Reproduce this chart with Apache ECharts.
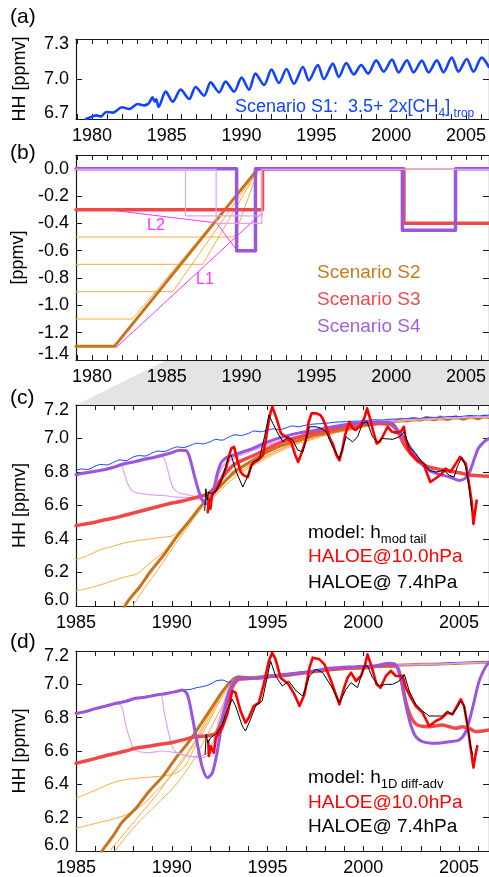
<!DOCTYPE html>
<html>
<head>
<meta charset="utf-8">
<script src="https://cdn.jsdelivr.net/npm/echarts@6/dist/echarts.min.js"></script>
<style>
html,body{margin:0;padding:0;background:#fff;}
#chart{width:489px;height:877px;}
</style>
</head>
<body>
<div id="chart"></div>
<script>
// ---------- tick positions ----------
const yearLabelsAB = [1980, 1985, 1990, 1995, 2000, 2005];
const yearMinorAB = [1979,1980,1981,1982,1983,1984,1985,1986,1987,1988,1989,1990,1991,1992,1993,1994,1995,1996,1997,1998,1999,2000,2001,2002,2003,2004,2005,2006];
const yearLabelsCD = [1985, 1990, 1995, 2000, 2005];
const yearMinorCD = [1985,1986,1987,1988,1989,1990,1991,1992,1993,1994,1995,1996,1997,1998,1999,2000,2001,2002,2003,2004,2005,2006];
const yTicksA = [6.7, 7.0, 7.3];
const yTicksB = [-1.4, -1.2, -1.0, -0.8, -0.6, -0.4, -0.2, 0.0];
const yTicksCD = [6.0, 6.2, 6.4, 6.6, 6.8, 7.0, 7.2];

// ---------- (a) scenario S1 ----------
const a_S1 = [[1979.6,6.70],[1979.9,6.713],[1980.3,6.727],[1980.6,6.72],[1980.95,6.752],[1981.4,6.748],[1982.0,6.788],[1982.5,6.775],[1983.05,6.812],[1983.5,6.802],[1983.8,6.818],[1984.05,6.862],[1984.2,6.83],[1984.3,6.848],[1984.45,6.79],[1984.93,6.905],[1985.4,6.83],[1985.93,6.92],[1986.5,6.85],[1986.93,6.94],[1987.5,6.875],[1987.93,6.975],[1988.5,6.9],[1988.93,6.98],[1989.5,6.905],[1990.0,7.01],[1990.5,6.92],[1990.93,7.04],[1991.5,6.955],[1992.0,7.07],[1992.5,6.97],[1993.0,7.075],[1993.5,6.965],[1994.1,7.09],[1994.5,6.99],[1995.1,7.105],[1995.5,7.0],[1996.1,7.115],[1996.5,7.015],[1997.0,7.12],[1997.5,7.035],[1998.0,7.105],[1998.45,7.04],[1999.0,7.14],[1999.5,7.055],[2000.05,7.145],[2000.5,7.05],[2001.05,7.14],[2001.5,7.05],[2002.05,7.138],[2002.5,7.05],[2003.05,7.14],[2003.5,7.05],[2004.05,7.16],[2004.5,7.055],[2005.05,7.15],[2005.5,7.055],[2006.05,7.16],[2006.53,7.09]];

// ---------- (b) offsets ----------
const b_S2 = [[1978.93,-1.3],[1981.5,-1.3],[1991.1,0],[1991.4,0]];
const b_S2v1 = [[1978.93,-1.1],[1982.7,-1.1],[1991.15,0],[2006.53,0]];
const b_S2v2 = [[1978.93,-0.9],[1985.4,-0.9],[1991.15,0]];
const b_S2v3 = [[1978.93,-0.7],[1987.4,-0.7],[1991.15,0]];
const b_S2v4 = [[1978.93,-0.5],[1989.5,-0.5],[1991.15,0]];
const b_L1 = [[1981.6,-1.31],[1991.3,-0.33]];
const b_L2 = [[1981.4,-0.305],[1988.33,-0.397],[1989.7,-0.6]];
const b_S3 = [[1978.93,-0.3],[1991.4,-0.3],[1991.4,0],[2000.85,0],[2000.85,-0.4],[2006.53,-0.4]];
const b_S4 = [[1978.93,0],[1989.67,0],[1989.67,-0.6],[1990.93,-0.6],[1990.93,0],[2000.75,0],[2000.75,-0.45],[2004.3,-0.45],[2004.3,0],[2006.53,0]];
const b_S4v1 = [[1978.93,-0.005],[1986.25,-0.005],[1986.25,-0.345],[1991.35,-0.345],[1991.35,-0.005],[2006.53,-0.005]];
const b_S4v2 = [[1978.93,-0.005],[1988.3,-0.005],[1988.3,-0.4],[1991.35,-0.4],[1991.35,-0.005]];

// ---------- (c) model h_mod tail ----------
const c_S1 = [[1985,6.81],[1985.3,6.818],[1985.6,6.815],[1986,6.835],[1986.3,6.845],[1986.6,6.842],[1987,6.86],[1987.3,6.872],[1987.6,6.868],[1988,6.89],[1988.3,6.898],[1988.6,6.895],[1989,6.915],[1989.3,6.925],[1989.6,6.922],[1990,6.94],[1990.3,6.95],[1990.6,6.946],[1991,6.96],[1991.3,6.972],[1991.6,6.968],[1992,6.98],[1992.3,6.995],[1992.6,6.99],[1993,7.01],[1993.3,7.022],[1993.6,7.018],[1994,7.03],[1994.3,7.045],[1994.6,7.04],[1995,7.05],[1995.3,7.058],[1995.6,7.052],[1996,7.065],[1996.3,7.075],[1996.6,7.07],[1997,7.08],[1997.5,7.087],[1998,7.09],[1998.5,7.097],[1999,7.1],[1999.5,7.103],[2000,7.105],[2000.5,7.112],[2001,7.11],[2001.5,7.116],[2002,7.115],[2002.5,7.122],[2003,7.12],[2003.5,7.127],[2004,7.125],[2004.5,7.132],[2005,7.13],[2005.5,7.137],[2006,7.135],[2006.56,7.14]];
const c_S4 = [[1985,6.785],[1985.5,6.795],[1986,6.805],[1986.5,6.815],[1987,6.83],[1987.5,6.85],[1988,6.86],[1988.5,6.875],[1989,6.885],[1989.5,6.9],[1990,6.915],[1990.4,6.93],[1990.75,6.928],[1990.95,6.88],[1991.2,6.77],[1991.45,6.67],[1991.65,6.62],[1991.8,6.61],[1992.0,6.63],[1992.2,6.7],[1992.4,6.8],[1992.6,6.86],[1992.9,6.89],[1993.2,6.9],[1993.7,6.92],[1994.2,6.94],[1994.9,6.975],[1995.8,7.01],[1996.7,7.035],[1997.5,7.05],[1998.4,7.07],[1999.2,7.085],[2000.1,7.095],[2000.8,7.1],[2001.5,7.09],[2001.8,7.05],[2002.2,6.99],[2002.6,6.92],[2002.9,6.87],[2003.3,6.82],[2003.6,6.8],[2004.0,6.785],[2004.5,6.77],[2005.0,6.75],[2005.3,6.76],[2005.55,6.8],[2005.8,6.88],[2006.0,6.94],[2006.3,6.98],[2006.56,7.0]];
const c_S4v1 = [[1985,6.78],[1986,6.8],[1987,6.825],[1987.35,6.84],[1987.5,6.8],[1987.7,6.73],[1987.9,6.69],[1988.2,6.675],[1988.8,6.665],[1989.5,6.66],[1990.2,6.65],[1990.8,6.648],[1991.3,6.64],[1991.7,6.63],[1992.0,6.65],[1992.3,6.74],[1992.6,6.83],[1993,6.87],[1993.5,6.9],[1994.2,6.93],[1995,6.965],[1996,7.0],[1997,7.03],[1998,7.055],[1999,7.075],[2000,7.09],[2001,7.1],[2002,7.11],[2003,7.115],[2004,7.12],[2005,7.125],[2006.56,7.13]];
const c_S4v2 = [[1985,6.78],[1986,6.8],[1987,6.825],[1988,6.855],[1989,6.88],[1989.5,6.89],[1989.7,6.85],[1989.9,6.76],[1990.1,6.7],[1990.4,6.675],[1990.8,6.665],[1991.3,6.65],[1991.7,6.635],[1992.0,6.65],[1992.3,6.73],[1992.6,6.82],[1993,6.865],[1993.5,6.895],[1994.2,6.925],[1995,6.96],[1996,6.995],[1997,7.025],[1998,7.05],[1999,7.07],[2000,7.085],[2001,7.098],[2002,7.108],[2003,7.113],[2004,7.118],[2005,7.123],[2006.56,7.128]];
const c_S3 = [[1985,6.48],[1985.5,6.49],[1986,6.5],[1986.5,6.515],[1987,6.525],[1987.5,6.54],[1988,6.555],[1988.5,6.57],[1989,6.585],[1989.5,6.6],[1990,6.615],[1990.5,6.625],[1991,6.64],[1991.5,6.655],[1991.8,6.665],[1992.1,6.69],[1992.4,6.73],[1992.8,6.79],[1993.2,6.84],[1993.7,6.87],[1994.3,6.9],[1995,6.94],[1995.8,6.98],[1996.7,7.01],[1997.5,7.035],[1998.4,7.055],[1999.2,7.07],[2000.1,7.085],[2000.8,7.09],[2001.5,7.08],[2001.8,7.04],[2002.1,6.97],[2002.4,6.92],[2002.9,6.86],[2003.4,6.83],[2004.3,6.81],[2005,6.795],[2005.7,6.78],[2006.56,6.775]];
const c_S2 = [[1987.5,5.99],[1987.72,6.03],[1988.33,6.115],[1988.85,6.2],[1989.55,6.3],[1990.24,6.41],[1990.94,6.51],[1991.63,6.61],[1992.33,6.69],[1992.9,6.76],[1993.37,6.81],[1994.23,6.87],[1995,6.92],[1995.8,6.96],[1996.67,6.99],[1997.5,7.02],[1998.4,7.04],[1999.2,7.06],[2000.1,7.08],[2001,7.095],[2001.5,7.1],[2002,7.115],[2002.3,7.105],[2002.6,7.12],[2003,7.11],[2003.3,7.125],[2003.7,7.112],[2004,7.128],[2004.4,7.113],[2004.8,7.13],[2005.2,7.115],[2005.6,7.132],[2006,7.118],[2006.3,7.134],[2006.56,7.125]];
const c_S2v1 = [[1985,6.275],[1985.6,6.3],[1986.25,6.335],[1986.9,6.355],[1987.46,6.375],[1988.2,6.39],[1988.85,6.4],[1989.5,6.41],[1990.07,6.42],[1990.5,6.46],[1990.94,6.52],[1991.6,6.6],[1992.3,6.68],[1993,6.77],[1993.8,6.83],[1994.5,6.87],[1995.5,6.93],[1996.6,6.98],[1997.5,7.01],[1998.4,7.035],[1999.3,7.06],[2000.2,7.08],[2001,7.09],[2002,7.1],[2003,7.11],[2004,7.115],[2005,7.12],[2006.56,7.125]];
const c_S2v2 = [[1985,6.09],[1985.6,6.105],[1986.25,6.125],[1986.9,6.15],[1987.6,6.175],[1988.16,6.19],[1988.5,6.22],[1989,6.27],[1989.55,6.32],[1990.24,6.42],[1990.94,6.52],[1991.6,6.61],[1992.3,6.68],[1993,6.76],[1993.8,6.82],[1994.5,6.865],[1995.5,6.925],[1996.6,6.975],[1997.5,7.005],[1998.4,7.03],[1999.3,7.055],[2000.2,7.075],[2001,7.088],[2002,7.1],[2003,7.108],[2004,7.113],[2005,7.118],[2006.56,7.123]];
const c_S2v3 = [[1987.9,5.99],[1988.6,6.11],[1989.3,6.22],[1990,6.34],[1990.7,6.45],[1991.4,6.56],[1992.2,6.65],[1993,6.74],[1993.8,6.81],[1994.6,6.86],[1995.5,6.915],[1996.5,6.965],[1997.5,7.0],[1998.4,7.03],[1999.3,7.05],[2000.2,7.072],[2001,7.085],[2002,7.098],[2003,7.106],[2004,7.11],[2005,7.116],[2006.56,7.12]];
const c_haloe10 = [[1991.88,6.56],[1991.95,6.64],[1992.02,6.58],[1992.1,6.66],[1992.15,6.67],[1992.3,6.69],[1992.5,6.73],[1992.7,6.79],[1992.85,6.83],[1993.0,6.9],[1993.1,6.94],[1993.25,6.95],[1993.45,6.86],[1993.6,6.8],[1993.75,6.78],[1993.97,6.77],[1994.15,6.84],[1994.35,6.86],[1994.5,6.87],[1994.76,6.9],[1994.95,7.02],[1995.1,7.13],[1995.25,7.19],[1995.35,7.18],[1995.5,7.11],[1995.7,7.03],[1995.97,7.01],[1996.23,6.98],[1996.45,6.9],[1996.6,6.86],[1996.8,6.92],[1997.0,6.99],[1997.15,7.1],[1997.3,7.15],[1997.55,7.15],[1997.75,7.14],[1997.88,7.12],[1998.06,7.07],[1998.25,7.0],[1998.4,6.97],[1998.6,6.9],[1998.75,6.87],[1998.9,6.93],[1999.05,7.02],[1999.27,7.1],[1999.45,7.06],[1999.6,7.05],[1999.8,7.07],[2000.05,7.12],[2000.2,7.18],[2000.35,7.12],[2000.5,7.05],[2000.7,6.97],[2000.85,6.98],[2001.0,7.01],[2001.27,7.07],[2001.5,7.04],[2001.7,7.035],[2001.96,7.04],[2002.12,7.07],[2002.22,6.99],[2002.35,6.94],[2002.5,6.91],[2002.83,6.87],[2003.15,6.85],[2003.3,6.8],[2003.5,6.74],[2003.75,6.76],[2004.1,6.79],[2004.3,6.82],[2004.55,6.8],[2004.83,6.85],[2005.05,6.89],[2005.15,6.9],[2005.35,6.85],[2005.52,6.73],[2005.66,6.62],[2005.75,6.49],[2005.82,6.55],[2005.92,6.63]];
const c_haloe74 = [[1991.72,6.57],[1991.78,6.70],[1991.85,6.63],[1991.92,6.68],[1992.07,6.67],[1992.33,6.69],[1992.67,6.77],[1992.93,6.88],[1993.1,6.9],[1993.37,6.8],[1993.71,6.71],[1994.06,6.8],[1994.23,6.86],[1994.58,6.88],[1994.84,7.01],[1995.07,7.14],[1995.28,7.09],[1995.54,7.03],[1995.8,6.98],[1996.06,7.01],[1996.32,6.99],[1996.58,6.93],[1996.84,6.92],[1997.19,7.07],[1997.53,7.07],[1997.8,7.06],[1998.06,7.04],[1998.4,6.95],[1998.75,6.88],[1999.1,7.01],[1999.44,6.98],[1999.7,7.01],[1999.96,7.09],[2000.2,7.1],[2000.48,7.01],[2000.74,6.98],[2001.0,7.0],[2001.53,6.995],[2001.88,7.01],[2002.14,7.04],[2002.4,6.95],[2002.74,6.91],[2003.0,6.87],[2003.18,6.85],[2003.44,6.81],[2003.8,6.8],[2004.22,6.81],[2004.48,6.78],[2004.74,6.77],[2004.9,6.83],[2005.14,6.89],[2005.35,6.83],[2005.52,6.71],[2005.66,6.57]];

// ---------- (d) model h_1D diff-adv ----------
const d_tail = [[1994,7.04],[1995,7.05],[1996,7.06],[1997,7.072],[1998,7.086],[1999,7.096],[2000,7.102],[2001,7.11],[2002,7.116],[2003,7.12],[2004,7.122],[2005,7.127],[2006.56,7.132]];
const d_S1 = [[1985,6.826],[1986,6.856],[1987,6.886],[1988,6.915],[1989,6.935],[1990,6.955],[1990.6,6.966],[1991,6.97],[1991.3,6.98],[1991.6,6.986],[1992,7.0],[1992.3,7.02],[1992.64,7.026],[1992.98,7.012],[1993.2,7.02],[1993.5,7.036],[1994,7.04],[1995,7.05],[1996,7.06],[1997,7.075],[1998,7.09],[1999,7.1],[2000,7.105],[2001,7.11],[2002,7.115],[2003,7.12],[2004,7.125],[2005,7.13],[2006.56,7.135]];
const d_S4 = [[1985,6.826],[1985.5,6.836],[1986.04,6.856],[1986.5,6.868],[1987.08,6.886],[1987.6,6.898],[1988.1,6.916],[1988.6,6.922],[1989.17,6.936],[1989.7,6.944],[1990.2,6.956],[1990.56,6.966],[1990.82,6.936],[1991.08,6.8],[1991.34,6.64],[1991.6,6.5],[1991.86,6.44],[1992.12,6.47],[1992.38,6.6],[1992.64,6.78],[1992.9,6.92],[1993.16,7.0],[1993.5,7.04],[1994.38,7.036],[1995.4,7.05],[1996.46,7.066],[1997.19,7.076],[1998.23,7.096],[1999.62,7.106],[2000.66,7.112],[2001.35,7.126],[2001.7,7.116],[2001.96,7.036],[2002.22,6.876],[2002.48,6.756],[2002.74,6.686],[2003.09,6.656],[2003.79,6.646],[2004.48,6.656],[2005.0,6.666],[2005.35,6.716],[2005.7,6.856],[2006.04,7.016],[2006.39,7.106],[2006.56,7.13]];
const d_S4v1 = [[1985,6.82],[1986.04,6.85],[1987.08,6.88],[1987.34,6.876],[1987.6,6.756],[1987.86,6.656],[1988.1,6.606],[1988.8,6.59],[1989.5,6.6],[1990.2,6.59],[1990.9,6.57],[1991.4,6.56],[1991.9,6.575],[1992.3,6.64],[1992.64,6.836],[1992.98,6.976],[1993.33,7.03]];
const d_S4v2 = [[1985,6.82],[1986.04,6.85],[1987.08,6.88],[1988.1,6.91],[1989.17,6.93],[1989.43,6.936],[1989.6,6.836],[1989.86,6.696],[1990.12,6.606],[1990.56,6.576],[1991.25,6.566],[1991.94,6.596],[1992.3,6.716],[1992.73,6.896],[1993.16,7.016],[1993.5,7.035]];
const d_S3 = [[1985,6.526],[1985.5,6.54],[1986.04,6.556],[1986.5,6.57],[1987.08,6.586],[1987.6,6.6],[1988.1,6.616],[1988.6,6.625],[1989.17,6.636],[1989.7,6.645],[1990.2,6.656],[1990.7,6.67],[1991.25,6.686],[1991.77,6.69],[1992.3,6.706],[1992.6,6.78],[1992.9,6.9],[1993.2,6.99],[1993.5,7.03],[1994,7.035],[1995,7.045],[1996,7.055],[1997,7.07],[1998,7.085],[1999,7.095],[2000,7.1],[2001,7.11],[2001.7,7.11],[2001.96,7.036],[2002.22,6.896],[2002.48,6.806],[2002.83,6.756],[2003.44,6.746],[2004.13,6.756],[2004.83,6.736],[2005.17,6.746],[2005.52,6.736],[2005.87,6.716],[2006.56,6.726]];
const d_S2 = [[1986.2,5.97],[1986.39,6.006],[1986.91,6.086],[1987.43,6.176],[1988.13,6.256],[1988.8,6.356],[1989.52,6.446],[1990.2,6.556],[1990.9,6.656],[1991.6,6.776],[1992.12,6.866],[1992.64,6.956],[1993.16,7.026],[1993.5,7.046]];
const d_S2v1 = [[1985,6.316],[1986.04,6.366],[1987.08,6.416],[1988.1,6.436],[1989.17,6.446],[1990.2,6.466],[1990.73,6.516],[1991.25,6.636],[1991.94,6.776],[1992.64,6.926],[1993.16,7.0],[1993.6,7.035]];
const d_S2v2 = [[1985,6.136],[1986.04,6.166],[1987.08,6.196],[1987.78,6.226],[1988.47,6.276],[1989.17,6.356],[1989.86,6.436],[1990.56,6.536],[1991.25,6.656],[1991.94,6.796],[1992.64,6.94],[1993.16,7.01],[1993.6,7.035]];
const d_S2v3 = [[1986.6,5.97],[1986.73,5.996],[1987.6,6.116],[1988.47,6.236],[1989.34,6.356],[1990.2,6.496],[1991.08,6.636],[1991.94,6.816],[1992.9,6.99],[1993.3,7.03]];
const d_S2v4 = [[1986.9,5.97],[1987.0,5.996],[1988.13,6.156],[1989.17,6.276],[1990.2,6.396],[1991.08,6.536],[1991.94,6.716],[1992.9,6.926],[1993.5,7.03]];
const d_haloe10 = [[1991.9,6.66],[1991.94,6.57],[1992.02,6.63],[1992.12,6.64],[1992.2,6.59],[1992.3,6.68],[1992.64,6.74],[1992.9,6.82],[1993.16,6.96],[1993.33,6.95],[1993.59,6.84],[1993.85,6.77],[1994.02,6.8],[1994.28,6.87],[1994.55,6.89],[1994.8,7.0],[1995.07,7.14],[1995.24,7.19],[1995.42,7.15],[1995.68,7.04],[1996.1,7.0],[1996.4,6.94],[1996.67,6.87],[1996.93,6.94],[1997.19,7.1],[1997.36,7.16],[1997.71,7.15],[1997.97,7.12],[1998.32,7.02],[1998.75,6.88],[1999.0,6.98],[1999.18,7.04],[1999.36,7.07],[1999.62,7.02],[1999.88,7.05],[2000.1,7.12],[2000.22,7.18],[2000.45,7.1],[2000.69,7.0],[2000.9,6.98],[2001.18,7.05],[2001.44,7.08],[2001.7,7.05],[2002.05,7.05],[2002.22,6.98],[2002.48,6.92],[2002.74,6.87],[2003.09,6.83],[2003.44,6.75],[2003.79,6.78],[2004.13,6.8],[2004.39,6.83],[2004.65,6.82],[2004.9,6.87],[2005.09,6.91],[2005.26,6.87],[2005.43,6.76],[2005.6,6.62],[2005.75,6.5],[2005.83,6.56],[2005.95,6.63]];
const d_haloe74 = [[1991.74,6.58],[1991.8,6.7],[1991.88,6.65],[1992.03,6.68],[1992.3,6.7],[1992.64,6.76],[1992.9,6.85],[1993.16,6.91],[1993.33,6.87],[1993.68,6.75],[1993.85,6.72],[1994.11,6.79],[1994.38,6.87],[1994.72,6.9],[1994.98,7.04],[1995.16,7.14],[1995.42,7.05],[1995.77,6.99],[1996.1,7.02],[1996.5,6.96],[1996.84,6.93],[1997.19,7.05],[1997.53,7.09],[1997.88,7.07],[1998.32,6.99],[1998.75,6.89],[1999.1,6.97],[1999.36,7.01],[1999.7,6.98],[2000.05,7.11],[2000.22,7.11],[2000.48,7.04],[2000.83,6.99],[2001.18,7.0],[2001.53,7.0],[2001.88,7.02],[2002.14,7.06],[2002.4,6.96],[2002.74,6.88],[2003.09,6.84],[2003.44,6.81],[2003.79,6.81],[2004.13,6.81],[2004.39,6.84],[2004.65,6.82],[2004.9,6.86],[2005.09,6.9],[2005.26,6.87],[2005.43,6.76],[2005.6,6.63],[2005.7,6.58]];

// ---------- styling ----------
const FONT = '"Liberation Sans", Arial, Helvetica, sans-serif';
const AXIS = '#1a1a1a';
const C_S1 = '#1244ff';
const C_S2 = '#c8741a';
const C_S2V = '#ffaa3c';
const C_S3 = '#f04848';
const C_S4 = '#9a56dc';
const C_S4V = '#e2a2f2';
const C_L = '#ff33ff';

const XR_AB = [1978.933, 2006.533];
const XR_CD = [1985, 2006.5625];

const grids = [
  {left: 76, width: 414, top: 39, height: 80},
  {left: 76, width: 414, top: 155, height: 205},
  {left: 76, width: 414, top: 405, height: 201},
  {left: 76, width: 414, top: 651, height: 200}
];

function xPair(g, range, labels, minor) {
  const base = {
    type: 'value', gridIndex: g, min: range[0], max: range[1],
    axisLine: {show: true, onZero: false, lineStyle: {color: AXIS, width: 1.2}},
    splitLine: {show: false},
    axisTick: {show: true, inside: true, length: 5, customValues: minor, lineStyle: {color: AXIS, width: 1}}
  };
  return [
    Object.assign({}, base, {position: 'bottom', axisLabel: {show: true, customValues: labels, margin: 8,
      formatter: v => String(Math.round(v)), fontFamily: FONT, fontSize: 18, color: '#000'}}),
    Object.assign({}, base, {position: 'top', axisLabel: {show: false}})
  ];
}

function yPair(g, min, max, ticks, name) {
  const base = {
    type: 'value', gridIndex: g, min: min, max: max,
    axisLine: {show: true, onZero: false, lineStyle: {color: AXIS, width: 1.2}},
    splitLine: {show: false},
    axisTick: {show: true, inside: true, length: 6, customValues: ticks, lineStyle: {color: AXIS, width: 1}}
  };
  const tok = {fontFamily: FONT, fontSize: 18, color: '#000'};
  return [
    Object.assign({}, base, {
      position: 'left',
      name: name, nameLocation: 'middle', nameGap: 47, nameRotate: 90,
      nameTextStyle: {fontFamily: FONT, fontSize: 18, color: '#000'},
      axisLabel: {show: true, customValues: ticks, margin: 7, fontFamily: FONT, fontSize: 18, color: '#000',
        formatter: function (v) {
          const s = (Math.abs(v) < 1e-9 ? 0 : v).toFixed(1);
          if (Math.abs(v - min) < 1e-6) return '{lo|' + s + '}';
          if (Math.abs(v - max) < 1e-6) return '{hi|' + s + '}';
          return s;
        },
        rich: {
          lo: Object.assign({padding: [0, 0, 12, 0]}, tok),
          hi: Object.assign({padding: [10, 0, 0, 0]}, tok)
        }
      }
    }),
    Object.assign({}, base, {position: 'right', axisLabel: {show: false}})
  ];
}

function line(g, data, color, width, z) {
  return {
    type: 'line', xAxisIndex: 2 * g, yAxisIndex: 2 * g, data: data,
    showSymbol: false, symbol: 'none', silent: true, clip: true,
    lineStyle: {color: color, width: width, join: 'round', cap: 'round'},
    itemStyle: {color: color}, z: z || 2
  };
}
function smoothLine(g, data, color, width, z) {
  const s = line(g, data, color, width, z);
  s.smooth = 0.3;
  return s;
}

const xAxes = [].concat(
  xPair(0, XR_AB, yearLabelsAB, yearMinorAB),
  xPair(1, XR_AB, yearLabelsAB, yearMinorAB),
  xPair(2, XR_CD, yearLabelsCD, yearMinorCD),
  xPair(3, XR_CD, yearLabelsCD, yearMinorCD)
);
const yAxes = [].concat(
  yPair(0, 6.7, 7.3, yTicksA, 'HH [ppmv]'),
  yPair(1, -1.4, 0.1, yTicksB, '[ppmv]'),
  yPair(2, 6.0, 7.2, yTicksCD, 'HH [ppmv]'),
  yPair(3, 6.0, 7.2, yTicksCD, 'HH [ppmv]')
);

const series = [
  // (a)
  smoothLine(0, a_S1, C_S1, 2.6, 3),
  // (b)
  line(1, b_S2v1, C_S2V, 1, 2),
  line(1, b_S2v2, C_S2V, 1, 2),
  line(1, b_S2v3, C_S2V, 1, 2),
  line(1, b_S2v4, C_S2V, 1, 2),
  line(1, b_L1, C_L, 1, 3),
  line(1, b_L2, C_L, 1, 3),
  line(1, b_S2, C_S2, 3, 4),
  line(1, b_S3, C_S3, 3.5, 4),
  line(1, b_S4, C_S4, 3.5, 5),
  line(1, b_S4v1, C_S4V, 1.2, 6),
  line(1, b_S4v2, C_S4V, 1.2, 6),
  // (c)
  smoothLine(2, c_S2v1, C_S2V, 1, 2),
  smoothLine(2, c_S2v2, C_S2V, 1, 2),
  smoothLine(2, c_S2v3, C_S2V, 1, 2),
  smoothLine(2, c_S2, C_S2, 3, 3),
  smoothLine(2, c_S1, C_S1, 1, 3),
  smoothLine(2, c_S4v1, C_S4V, 1.2, 4),
  smoothLine(2, c_S4v2, C_S4V, 1.2, 4),
  smoothLine(2, c_S3, C_S3, 3.5, 4),
  smoothLine(2, c_S4, C_S4, 3, 5),
  line(2, c_haloe10, '#ff0000', 2.6, 6),
  line(2, c_haloe74, '#000000', 1, 7),
  // (d)
  smoothLine(3, d_S2v1.concat(d_tail), C_S2V, 1, 2),
  smoothLine(3, d_S2v2.concat(d_tail), C_S2V, 1, 2),
  smoothLine(3, d_S2v3.concat(d_tail), C_S2V, 1, 2),
  smoothLine(3, d_S2v4.concat(d_tail), C_S2V, 1, 2),
  smoothLine(3, d_S2.concat(d_tail), C_S2, 3, 3),
  smoothLine(3, d_S1, C_S1, 1, 3),
  smoothLine(3, d_S4v1.concat(d_tail), C_S4V, 1.2, 4),
  smoothLine(3, d_S4v2.concat(d_tail), C_S4V, 1.2, 4),
  smoothLine(3, d_S3, C_S3, 3.5, 4),
  smoothLine(3, d_S4, C_S4, 3, 5),
  line(3, d_haloe10, '#ff0000', 2.6, 6),
  line(3, d_haloe74, '#000000', 1, 7)
];

const chart = echarts.init(document.getElementById('chart'), null, {renderer: 'canvas'});
chart.setOption({
  animation: false,
  backgroundColor: '#ffffff',
  textStyle: {fontFamily: FONT},
  grid: grids,
  xAxis: xAxes,
  yAxis: yAxes,
  series: series
});

// ---------- annotations ----------
function txt(x, y, text, color, size, rich) {
  const style = {text: text, fill: color, fontFamily: FONT, fontSize: size,
    align: 'left', verticalAlign: 'middle', textAlign: 'left', textVerticalAlign: 'middle'};
  if (rich) style.rich = rich;
  return {type: 'text', x: x, y: y, silent: true, z: 50, style: style};
}
function subRich(color, size, subSize) {
  return {
    m: {fill: color, fontFamily: FONT, fontSize: size, lineHeight: 26, verticalAlign: 'middle'},
    s: {fill: color, fontFamily: FONT, fontSize: subSize || 13, lineHeight: 26, verticalAlign: 'bottom'}
  };
}

// grey wedge linking the 1985-onward span of (b) to the panels below
const pTL = chart.convertToPixel({xAxisIndex: 4, yAxisIndex: 4}, [1985, 7.2]);
const pB = chart.convertToPixel({xAxisIndex: 2, yAxisIndex: 2}, [1985, -1.4]);
const pBR = chart.convertToPixel({xAxisIndex: 2, yAxisIndex: 2}, [XR_AB[1], -1.4]);
const pTR = chart.convertToPixel({xAxisIndex: 4, yAxisIndex: 4}, [XR_CD[1], 7.2]);

chart.setOption({
  graphic: [
    {type: 'polygon', silent: true, z: -1,
      shape: {points: [pTL, pB, pBR, pTR]}, style: {fill: '#e4e4e4', stroke: null}},
    txt(10, 17, '(a)', '#000', 21),
    txt(10, 153, '(b)', '#000', 21),
    txt(10, 398, '(c)', '#000', 21),
    txt(10, 642, '(d)', '#000', 21),
    txt(235, 107, '{m|Scenario S1:  3.5+ 2x[CH}{s|4}{m|]}{s| trop}', C_S1, 18, subRich(C_S1, 18, 12)),
    txt(317, 273, 'Scenario S2', '#c87a1e', 19),
    txt(317, 300, 'Scenario S3', '#f04a4a', 19),
    txt(317, 327, 'Scenario S4', '#a35ee0', 19),
    txt(147, 226, 'L2', C_L, 16),
    txt(196, 280, 'L1', C_L, 16),
    txt(308, 533, '{m|model: h}{s|mod tail}', '#000', 19, subRich('#000', 19)),
    txt(308, 557, 'HALOE@10.0hPa', '#ff0000', 19),
    txt(308, 583, 'HALOE@ 7.4hPa', '#000', 19),
    txt(308, 778, '{m|model: h}{s|1D diff-adv}', '#000', 19, subRich('#000', 19)),
    txt(308, 803, 'HALOE@10.0hPa', '#ff0000', 19),
    txt(308, 827, 'HALOE@ 7.4hPa', '#000', 19)
  ]
});
</script>
</body>
</html>
